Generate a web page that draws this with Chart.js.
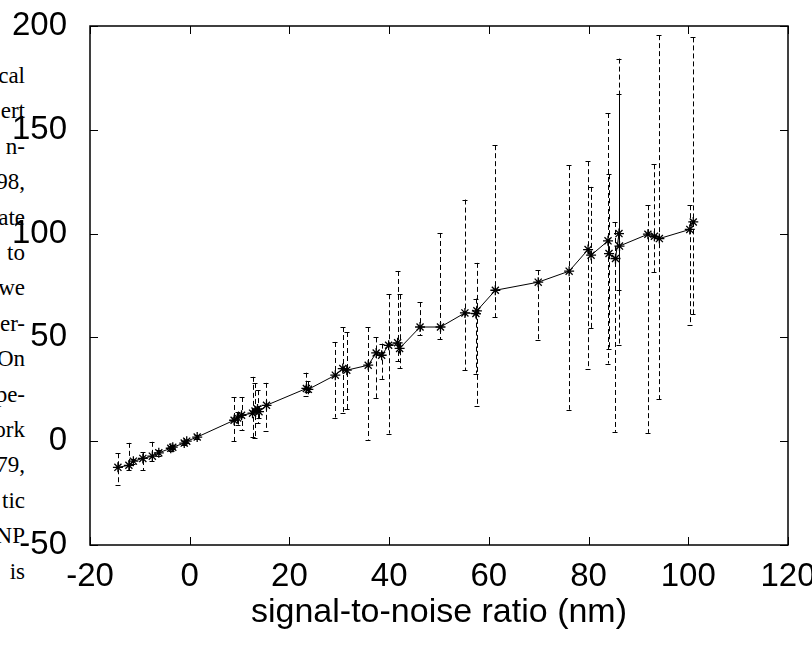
<!DOCTYPE html>
<html lang="en">
<head>
  <meta charset="UTF-8" />
  <title>signal-to-noise ratio (nm)</title>
  <script src="https://cdn.jsdelivr.net/npm/chart.js"></script>
  <style>
    body { margin: 0; background: #fff; }
    #wrap { position: relative; width: 812px; height: 649px; overflow: hidden; background: #fff; }
    .word {
      position: absolute; right: 787px; white-space: nowrap;
      font-family: "Liberation Serif", "Times New Roman", serif; font-size: 23px;
      line-height: 36px; color: #000;
    }
    #chart { position: absolute; left: 0; top: 0; }
  </style>
</head>
<body>
  <div id="wrap">
    <!-- word endings of the page text behind the figure -->
    <div id="words"></div>
    <canvas id="chart" width="812" height="649"></canvas>
  </div>

  <script>
    // data
    const snr   = [-14.4, -12.2, -11.3, -9.4, -7.5, -6.2, -3.8, -3.4, -1.1, -0.6, 1.5,
                   8.9, 9.6, 10.4, 12.6, 13.1, 13.6, 13.9, 15.4, 23.4, 23.8,
                   29.2, 30.7, 31.5, 35.8, 37.4, 38.5, 39.9, 41.7, 42.1, 46.2, 50.3,
                   55.2, 57.4, 57.6, 61.3, 69.9, 76.1, 79.9, 80.5, 83.9, 84.1, 85.4,
                   86.1, 86.2, 91.9, 93.2, 94.2, 100.3, 101];
    const value = [-12.6, -11.6, -9.6, -8.3, -7.2, -5.6, -3.4, -2.9, -0.9, 0, 2,
                   10.1, 11.2, 12.5, 13.5, 14.5, 15.5, 14.2, 17.3, 25.4, 25.0,
                   31.8, 35, 34.2, 36.6, 42.5, 41.4, 46.2, 47.4, 44.7, 55, 55,
                   61.8, 61.5, 62.8, 72.7, 76.6, 81.9, 92.3, 89.6, 96.5, 90.4, 88,
                   100, 94, 99.7, 98.7, 97.6, 102, 105.6];
    const low   = [-21.2, -14, -11, -14, -9.5, -7, -4.5, -3.8, -1.8, -0.8, 1.2,
                   0.1, 8, 5.5, 2, 1.4, 8.7, 11, 5, 22, 23.6,
                   11.4, 13.5, 15.4, 0.8, 20.9, 30, 3.7, 38.5, 35.3, 51, 49,
                   34.2, 32.6, 16.9, 59.6, 48.7, 15.2, 35, 54.3, 37.4, 44.3, 4.5,
                   72.7, 46.2, 4, 81.3, 20.1, 55.9, 61.2];
    const high  = [-5.8, -0.8, -8.5, -5.2, -0.3, -4.3, -2.3, -2, 0, 0.8, 2.8,
                   21.3, 14, 21.3, 31, 28, 24.6, 17, 28.1, 33, 29,
                   47.8, 55, 52.6, 55, 50, 47, 70.8, 82, 70.8, 67, 100.3,
                   116.4, 68.7, 85.9, 142.6, 82.4, 133, 134.9, 122.5, 158.1, 128.6, 105.6,
                   167.1, 184.3, 113.7, 133.4, 195.6, 113.7, 194.5];

    const xTicks = [-20, 0, 20, 40, 60, 80, 100, 120];
    const yTicks = [-50, 0, 50, 100, 150, 200];
    const xLabel = 'signal-to-noise ratio (nm)';

    const words = ['cal', 'ert', 'n-', '98,', 'ate', 'to', 'we', 'er-', 'On', 'pe-', 'ork', '79,', 'tic', 'NP', 'is'];

    const holder = document.getElementById('words');
    words.forEach((w, i) => {
      const d = document.createElement('div');
      d.className = 'word';
      d.style.top = (58 + i * 35.4) + 'px';
      d.textContent = w;
      holder.appendChild(d);
    });

    const sans = '"Liberation Sans", Arial, Helvetica, sans-serif';

    // dashed error bars with small caps, under the points
    const errorBars = {
      id: 'errorBars',
      beforeDatasetsDraw(chart) {
        const { ctx, scales: { x, y } } = chart;
        ctx.save();
        ctx.strokeStyle = '#000';
        ctx.lineWidth = 1;
        ctx.setLineDash([5, 3]);
        for (let i = 0; i < snr.length; i++) {
          const px = Math.round(x.getPixelForValue(snr[i])) + 0.5;
          const top = y.getPixelForValue(high[i]);
          const bot = y.getPixelForValue(low[i]);
          ctx.beginPath();
          ctx.moveTo(px, top);
          ctx.lineTo(px, bot);
          ctx.stroke();
          ctx.beginPath();
          ctx.moveTo(px - 3, Math.round(top) + 0.5);
          ctx.lineTo(px + 4, Math.round(top) + 0.5);
          ctx.moveTo(px - 3, Math.round(bot) + 0.5);
          ctx.lineTo(px + 4, Math.round(bot) + 0.5);
          ctx.stroke();
        }
        ctx.restore();
      }
    };

    // box round the plot and inward ticks on all four sides
    const frame = {
      id: 'frame',
      afterDraw(chart) {
        const { ctx, chartArea: a, scales: { x, y } } = chart;
        const len = 8;
        ctx.save();
        ctx.strokeStyle = '#000';
        ctx.lineWidth = 1.5;
        ctx.strokeRect(a.left, a.top, a.right - a.left, a.bottom - a.top);
        ctx.lineWidth = 1;
        ctx.beginPath();
        xTicks.forEach(v => {
          const px = Math.round(x.getPixelForValue(v)) + 0.5;
          ctx.moveTo(px, a.bottom); ctx.lineTo(px, a.bottom - len);
          ctx.moveTo(px, a.top); ctx.lineTo(px, a.top + len);
        });
        yTicks.forEach(v => {
          const py = Math.round(y.getPixelForValue(v)) + 0.5;
          ctx.moveTo(a.left, py); ctx.lineTo(a.left + len, py);
          ctx.moveTo(a.right, py); ctx.lineTo(a.right - len, py);
        });
        ctx.stroke();
        ctx.restore();
      }
    };

    const ctx = document.getElementById('chart').getContext('2d');
    new Chart(ctx, {
      type: 'scatter',
      data: {
        datasets: [{
          data: snr.map((v, i) => ({ x: v, y: value[i] })),
          showLine: true,
          borderColor: '#000',
          borderWidth: 1,
          tension: 0,
          pointStyle: 'star',
          pointRadius: 5,
          pointBorderColor: '#000',
          pointBackgroundColor: '#000',
          pointBorderWidth: 1.3
        }]
      },
      options: {
        responsive: false,
        animation: false,
        layout: { padding: { top: 26, right: 24, left: 0, bottom: 0 } },
        plugins: { legend: { display: false }, tooltip: { enabled: false } },
        scales: {
          x: {
            type: 'linear', min: -20, max: 120,
            afterBuildTicks(s) { s.ticks = xTicks.map(v => ({ value: v })); },
            ticks: { color: '#000', font: { family: sans, size: 33 }, padding: 12, maxRotation: 0, autoSkip: false },
            grid: { display: false, drawTicks: false },
            border: { display: false },
            title: { display: true, text: xLabel, color: '#000', font: { family: sans, size: 34 }, padding: { top: 0, bottom: 16 } },
            afterFit(s) { s.height = 104; s.paddingLeft = 0; s.paddingRight = 0; }
          },
          y: {
            type: 'linear', min: -50, max: 200,
            afterBuildTicks(s) { s.ticks = yTicks.map(v => ({ value: v })); },
            ticks: { color: '#000', font: { family: sans, size: 33 }, padding: 23, autoSkip: false },
            grid: { display: false, drawTicks: false },
            border: { display: false },
            afterFit(s) { s.width = 90; s.paddingTop = 0; s.paddingBottom = 0; }
          }
        }
      },
      plugins: [errorBars, frame]
    });
  </script>
</body>
</html>
